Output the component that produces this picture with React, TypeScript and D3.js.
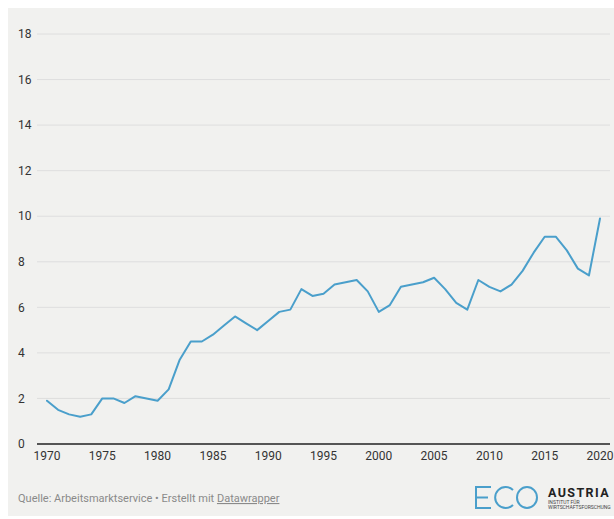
import React from "react";
import * as d3 from "d3";

const years: number[] = [
  1970, 1971, 1972, 1973, 1974, 1975, 1976, 1977, 1978, 1979,
  1980, 1981, 1982, 1983, 1984, 1985, 1986, 1987, 1988, 1989,
  1990, 1991, 1992, 1993, 1994, 1995, 1996, 1997, 1998, 1999,
  2000, 2001, 2002, 2003, 2004, 2005, 2006, 2007, 2008, 2009,
  2010, 2011, 2012, 2013, 2014, 2015, 2016, 2017, 2018, 2019, 2020,
];
const rates: number[] = [
  1.9, 1.5, 1.3, 1.2, 1.3, 2.0, 2.0, 1.8, 2.1, 2.0,
  1.9, 2.4, 3.7, 4.5, 4.5, 4.8, 5.2, 5.6, 5.3, 5.0,
  5.4, 5.8, 5.9, 6.8, 6.5, 6.6, 7.0, 7.1, 7.2, 6.7,
  5.8, 6.1, 6.9, 7.0, 7.1, 7.3, 6.8, 6.2, 5.9, 7.2,
  6.9, 6.7, 7.0, 7.6, 8.4, 9.1, 9.1, 8.5, 7.7, 7.4, 9.9,
];
const yTicks: number[] = [0, 2, 4, 6, 8, 10, 12, 14, 16, 18];
const xTicks: number[] = [1970, 1975, 1980, 1985, 1990, 1995, 2000, 2005, 2010, 2015, 2020];
const sourceText = "Quelle: Arbeitsmarktservice • Erstellt mit ";
const linkText = "Datawrapper";

export default function App() {
  const W = 614;
  const H = 519;
  const x = d3.scaleLinear().domain([1970, 2020]).range([47, 600]);
  const y = d3.scaleLinear().domain([0, 18]).range([444, 34]);
  const data = years.map((yr, i) => ({ yr, v: rates[i] }));
  const line = d3
    .line<{ yr: number; v: number }>()
    .x((d) => x(d.yr))
    .y((d) => y(d.v));
  const font = "Roboto, 'Open Sans', sans-serif";
  const blue = "#4a9fcb";

  // logo geometry
  const lx = 476;
  const ly = 487;
  const lh = 21;

  return (
    <svg
      width={W}
      height={H}
      style={{ position: "absolute", left: 0, top: 0, display: "block" }}
      fontFamily={font}
    >
      <rect x={0} y={0} width={W} height={H} fill="#ffffff" />
      <rect x={8} y={8} width={W - 8} height={H - 11} fill="#f1f1ef" />
      {yTicks
        .filter((t) => t !== 0)
        .map((t) => (
          <line
            key={"g" + t}
            x1={37}
            x2={610}
            y1={y(t)}
            y2={y(t)}
            stroke="#dedede"
            strokeWidth={1}
          />
        ))}
      {yTicks.map((t) => (
        <text
          key={"yt" + t}
          x={18}
          y={y(t)}
          dy="0.35em"
          fontSize={12}
          fill="#333"
        >
          {t}
        </text>
      ))}
      <line x1={37} x2={610} y1={y(0)} y2={y(0)} stroke="#555" strokeWidth={2} />
      {xTicks.map((t) => (
        <text
          key={"xt" + t}
          x={x(t)}
          y={460}
          textAnchor="middle"
          fontSize={12}
          fill="#333"
        >
          {t}
        </text>
      ))}
      <path
        d={line(data) || ""}
        fill="none"
        stroke={blue}
        strokeWidth={2}
        strokeLinejoin="round"
        strokeLinecap="round"
      />
      <text x={18} y={502} fontSize={11} fill="#8a8a8a">
        {sourceText}
        <tspan textDecoration="underline" fill="#8a8a8a">
          {linkText}
        </tspan>
      </text>
      {/* ECO logo */}
      <g stroke={blue} strokeWidth={2} fill="none">
        <path d={`M${lx + 15},${ly} H${lx} V${ly + lh} H${lx + 15} M${lx},${ly + lh / 2} H${lx + 12}`} />
        <path
          d={`M${lx + 37},${ly + 3} A10.5,10.5 0 1 0 ${lx + 37},${ly + lh - 3}`}
        />
        <ellipse cx={lx + 51} cy={ly + lh / 2} rx={10} ry={lh / 2} />
      </g>
      <text
        x={548}
        y={497}
        fontSize={12.5}
        fontWeight={700}
        letterSpacing={1.4}
        fill="#222"
      >
        AUSTRIA
      </text>
      <text x={548} y={504} fontSize={5} fill="#444">
        INSTITUT FÜR
      </text>
      <text x={548} y={509} fontSize={5} fill="#444">
        WIRTSCHAFTSFORSCHUNG
      </text>
    </svg>
  );
}
